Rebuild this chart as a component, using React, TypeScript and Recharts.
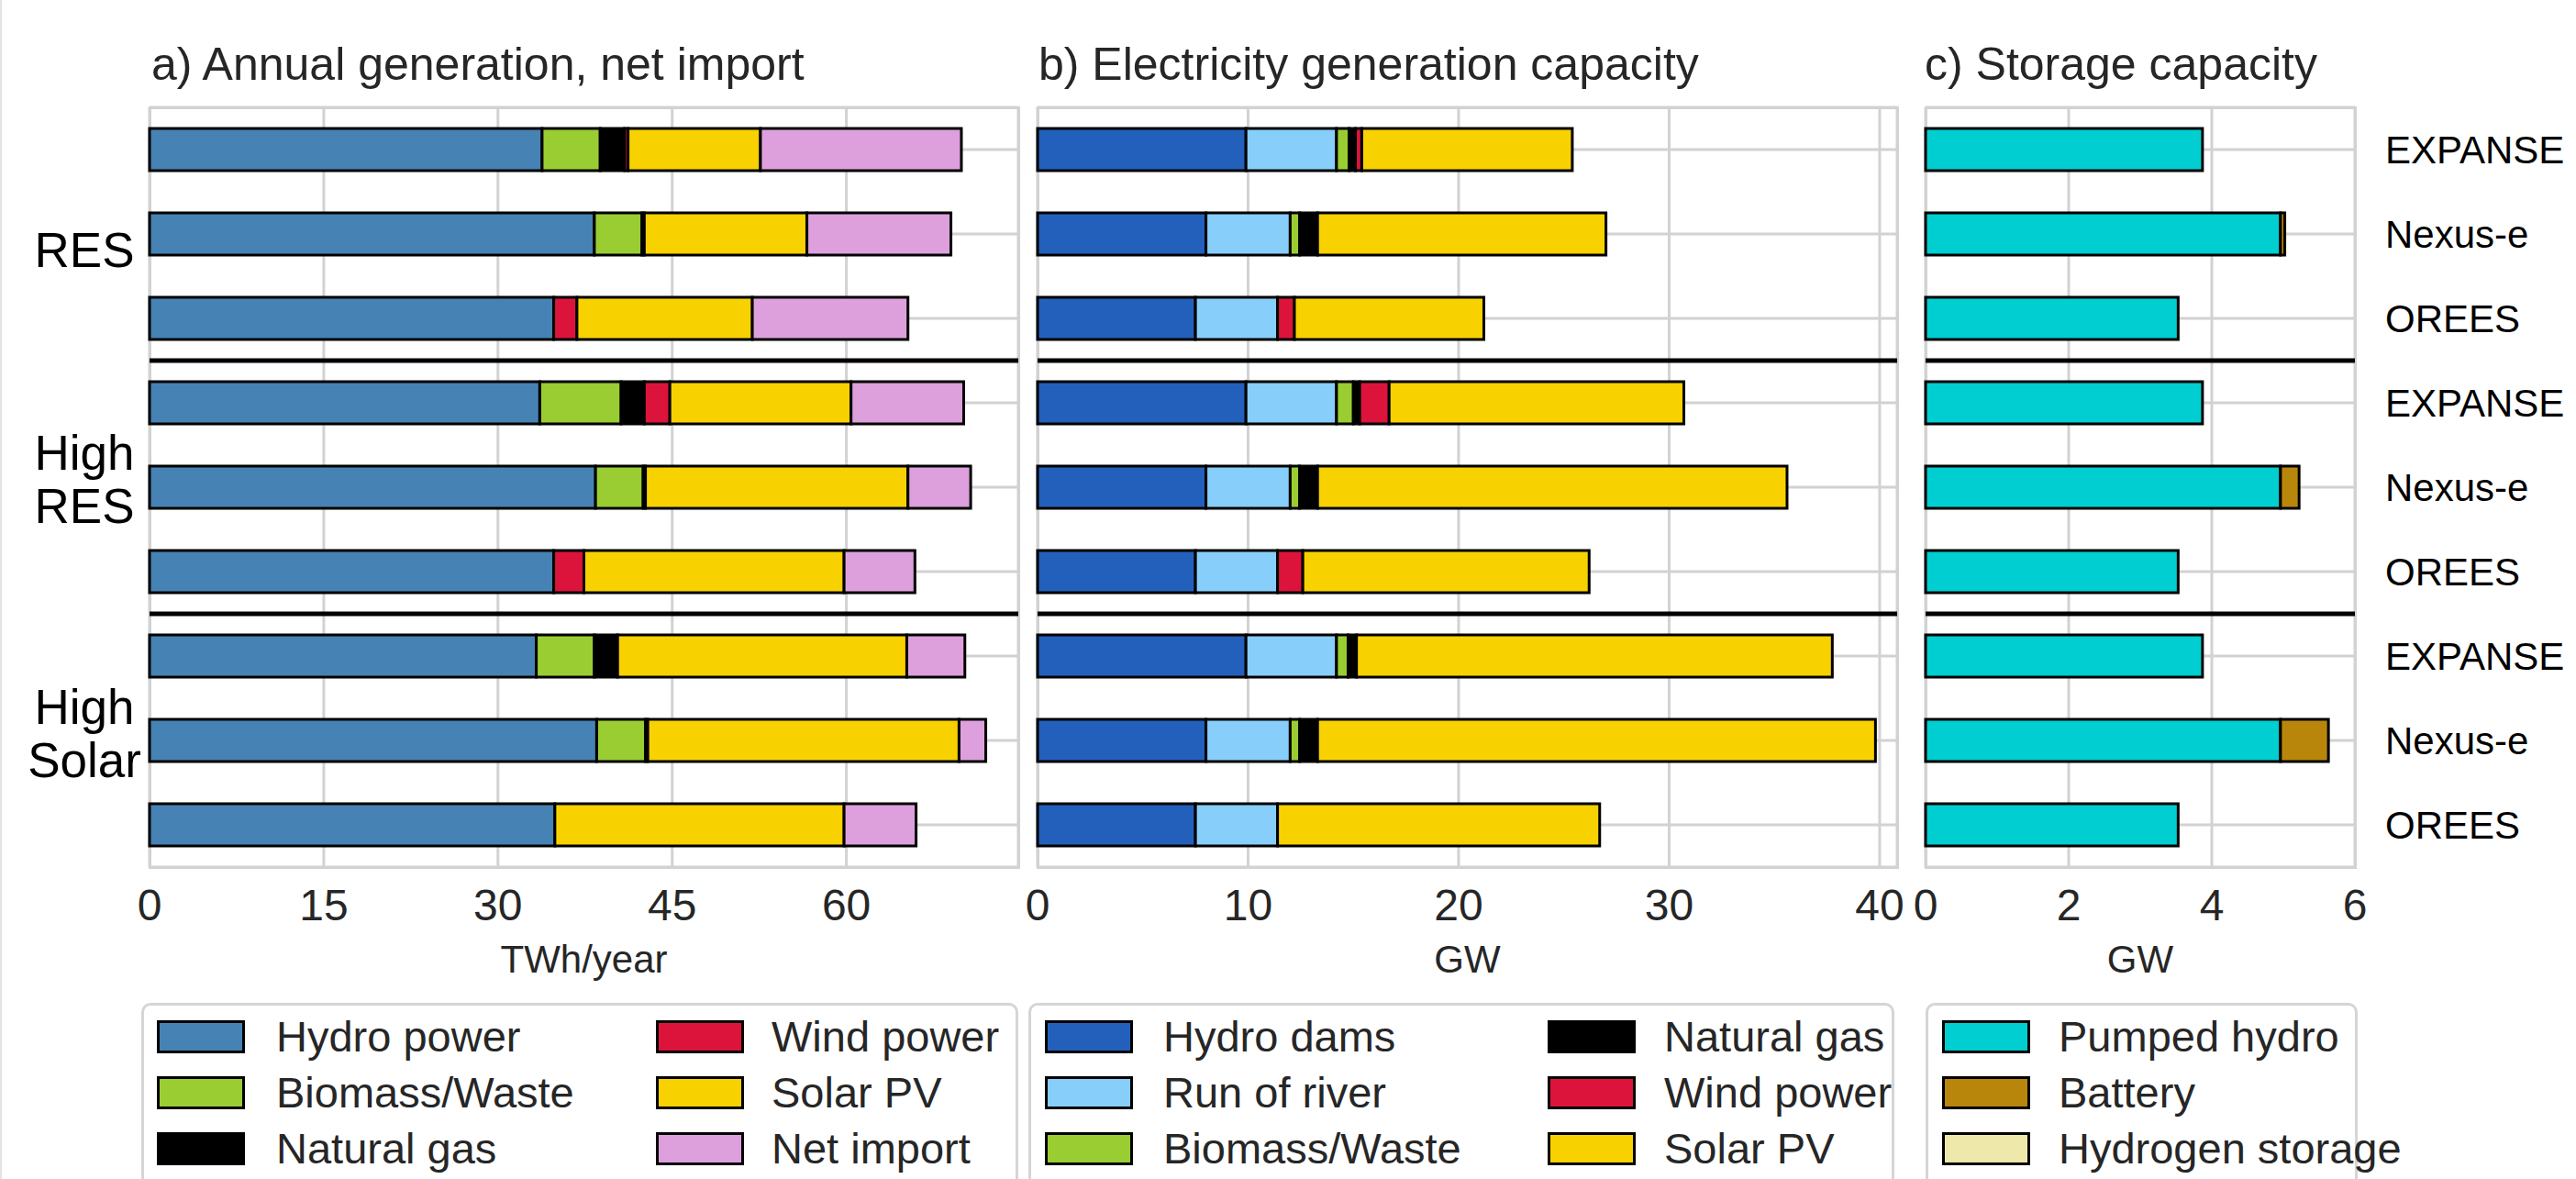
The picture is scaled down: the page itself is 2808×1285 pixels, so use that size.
import React from "react";
import { BarChart, Bar, XAxis, YAxis, CartesianGrid, ReferenceLine } from "recharts";

const scenarios = ["RES", "High RES", "High Solar"];
const models = ["EXPANSE", "Nexus-e", "OREES"];

// a) annual generation / net import, TWh/year (RES x3, High RES x3, High Solar x3)
const genHydro = [33.8, 38.3, 34.8, 33.6, 38.4, 34.8, 33.3, 38.5, 34.9];
const genBiomass = [5.0, 4.1, 0, 7.0, 4.1, 0, 5.0, 4.2, 0];
const genGas = [2.1, 0.2, 0, 2.0, 0.2, 0, 2.0, 0.2, 0];
const genWind = [0.3, 0, 2.0, 2.2, 0, 2.6, 0, 0, 0];
const genSolar = [11.4, 14.0, 15.1, 15.6, 22.6, 22.4, 24.9, 26.8, 24.9];
const netImport = [17.3, 12.4, 13.4, 9.7, 5.4, 6.1, 5.0, 2.3, 6.2];

// b) generation capacity, GW
const capDams = [9.9, 8.0, 7.5, 9.9, 8.0, 7.5, 9.9, 8.0, 7.5];
const capRiver = [4.3, 4.0, 3.9, 4.3, 4.0, 3.9, 4.3, 4.0, 3.9];
const capBiomass = [0.6, 0.45, 0, 0.8, 0.45, 0, 0.55, 0.45, 0];
const capGas = [0.3, 0.85, 0, 0.3, 0.85, 0, 0.4, 0.85, 0];
const capWind = [0.3, 0, 0.8, 1.4, 0, 1.2, 0, 0, 0];
const capSolar = [10.0, 13.7, 9.0, 14.0, 22.3, 13.6, 22.6, 26.5, 15.3];

// c) storage capacity, GW
const stPumped = [3.87, 4.96, 3.53, 3.87, 4.96, 3.53, 3.87, 4.96, 3.53];
const stBattery = [0, 0.06, 0, 0, 0.26, 0, 0, 0.67, 0];
const stHydrogen = [0, 0, 0, 0, 0, 0, 0, 0, 0];

const ticksA = [0, 15, 30, 45, 60];
const ticksB = [0, 10, 20, 30, 40];
const ticksC = [0, 2, 4, 6];

const rowIds = scenarios.flatMap((s) => models.map((m) => `${s}|${m}`));

const seriesA = [
  { key: "hydro", name: "Hydro power", color: "#4682b4", values: genHydro },
  { key: "bio", name: "Biomass/Waste", color: "#9acd32", values: genBiomass },
  { key: "gas", name: "Natural gas", color: "#000000", values: genGas },
  { key: "wind", name: "Wind power", color: "#dc143c", values: genWind },
  { key: "solar", name: "Solar PV", color: "#f8d100", values: genSolar },
  { key: "imp", name: "Net import", color: "#dda0dd", values: netImport },
];
const seriesB = [
  { key: "dams", name: "Hydro dams", color: "#2360bb", values: capDams },
  { key: "ror", name: "Run of river", color: "#87cefa", values: capRiver },
  { key: "bio", name: "Biomass/Waste", color: "#9acd32", values: capBiomass },
  { key: "gas", name: "Natural gas", color: "#000000", values: capGas },
  { key: "wind", name: "Wind power", color: "#dc143c", values: capWind },
  { key: "solar", name: "Solar PV", color: "#f8d100", values: capSolar },
];
const seriesC = [
  { key: "ph", name: "Pumped hydro", color: "#00ced1", values: stPumped },
  { key: "bat", name: "Battery", color: "#b8860b", values: stBattery },
  { key: "h2", name: "Hydrogen storage", color: "#eee8aa", values: stHydrogen },
];

const FONT = '"Liberation Sans", Arial, sans-serif';
const TXT = "#262626";
const GRID = "#d2d2d2";
const CH = 1100;
const TOP = 117;
const PLOT_BOTTOM = 945;
const AXIS_H = 120;

type Series = { key: string; name: string; color: string; values: number[] };

function Panel(props: {
  left: number;
  width: number;
  plotLeft: number;
  plotRight: number;
  series: Series[];
  domain: [number, number];
  ticks: number[];
  unit: string;
  rightLabels?: boolean;
}) {
  const { left, width, plotLeft, plotRight, series, domain, ticks, unit, rightLabels } = props;
  const data = rowIds.map((id, i) => {
    const row: Record<string, any> = { id };
    series.forEach((s) => (row[s.key] = s.values[i]));
    return row;
  });
  const yW = rightLabels ? 200 : 0;
  const margin = {
    top: TOP,
    left: plotLeft - left,
    right: left + width - plotRight - yW,
    bottom: CH - PLOT_BOTTOM - AXIS_H,
  };
  return (
    <>
      <div
        style={{
          position: "absolute",
          left: plotLeft - 1.5,
          top: TOP - 1.5,
          width: plotRight - plotLeft + 3,
          height: PLOT_BOTTOM - TOP + 3,
          border: `3px solid ${GRID}`,
          boxSizing: "border-box",
        }}
      />
      <div style={{ position: "absolute", left, top: 0 }}>
        <BarChart width={width} height={CH} data={data} layout="vertical" margin={margin} barSize={46}>
          <CartesianGrid stroke={GRID} strokeWidth={3} />
          <XAxis
            type="number"
            domain={domain}
            ticks={ticks}
            interval={0}
            height={AXIS_H}
            axisLine={false}
            tickLine={false}
            tickSize={6}
            tickMargin={18}
            tick={{ fontSize: 48, fill: TXT }}
            label={{ value: unit, position: "insideBottom", offset: 5, fontSize: 42, fill: TXT }}
          />
          <YAxis
            type="category"
            dataKey="id"
            hide={!rightLabels}
            orientation="right"
            width={yW}
            interval={0}
            axisLine={false}
            tickLine={false}
            tickSize={6}
            tickMargin={27}
            tick={{ fontSize: 42, fill: "#000" }}
            tickFormatter={(v: string) => v.split("|")[1]}
          />
          {series.map((s) => (
            <Bar
              key={s.key}
              dataKey={s.key}
              name={s.name}
              stackId="s"
              fill={s.color}
              stroke="#000"
              strokeWidth={3}
              isAnimationActive={false}
            />
          ))}
          <ReferenceLine y={rowIds[2]} position="end" stroke="#000" strokeWidth={5} />
          <ReferenceLine y={rowIds[5]} position="end" stroke="#000" strokeWidth={5} />
        </BarChart>
      </div>
    </>
  );
}

function LegendBox(props: { left: number; width: number; series: Series[]; cols: { key: number; text: number }[] }) {
  const { left, width, series, cols } = props;
  const rowsY = [1130, 1191, 1252];
  return (
    <>
      <div
        style={{
          position: "absolute",
          left,
          top: 1093,
          width,
          height: 240,
          border: "3px solid #d5d5d5",
          borderRadius: 10,
          boxSizing: "border-box",
          background: "#fff",
        }}
      />
      {series.map((s, i) => {
        const c = cols[Math.floor(i / 3)];
        const y = rowsY[i % 3];
        return (
          <React.Fragment key={s.key}>
            <div
              style={{
                position: "absolute",
                left: left + c.key,
                top: y - 18,
                width: 96,
                height: 36,
                background: s.color,
                border: "3px solid #000",
                boxSizing: "border-box",
              }}
            />
            <div
              style={{
                position: "absolute",
                left: left + c.text,
                top: y - 30,
                height: 60,
                lineHeight: "60px",
                fontSize: 47,
                color: TXT,
                whiteSpace: "nowrap",
              }}
            >
              {s.name}
            </div>
          </React.Fragment>
        );
      })}
    </>
  );
}

export default function App() {
  return (
    <div
      style={{
        position: "absolute",
        left: 0,
        top: 0,
        width: 2808,
        height: 1285,
        overflow: "hidden",
        background: "#fff",
        fontFamily: FONT,
      }}
    >
      <div style={{ position: "absolute", left: 0, top: 0, width: 2, height: 1285, background: "#e2e2e2" }} />
      <Panel left={0} width={1130} plotLeft={163} plotRight={1110} series={seriesA} domain={[0, 74.8]} ticks={ticksA} unit="TWh/year" />
      <Panel left={1090} width={1000} plotLeft={1131} plotRight={2068} series={seriesB} domain={[0, 40.83]} ticks={ticksB} unit="GW" />
      <Panel left={2070} width={738} plotLeft={2099} plotRight={2567} series={seriesC} domain={[0, 6]} ticks={ticksC} unit="GW" rightLabels />
      <svg width={2808} height={200} style={{ position: "absolute", left: 0, top: 0, overflow: "visible" }}>
        <g fontSize={50} fill={TXT}>
          <text x={165} y={87}>a) Annual generation, net import</text>
          <text x={1132} y={87}>b) Electricity generation capacity</text>
          <text x={2098} y={87}>c) Storage capacity</text>
        </g>
        <g fontSize={53} fill="#000" textAnchor="middle">
          <text x={92} y={291}>RES</text>
          <text x={92} y={512}>High</text>
          <text x={92} y={570}>RES</text>
          <text x={92} y={789}>High</text>
          <text x={92} y={847}>Solar</text>
        </g>
      </svg>
      <LegendBox left={154} width={956} series={seriesA} cols={[{ key: 17, text: 147 }, { key: 561, text: 687 }]} />
      <LegendBox left={1121} width={944} series={seriesB} cols={[{ key: 18, text: 147 }, { key: 566, text: 693 }]} />
      <LegendBox left={2099} width={471} series={seriesC} cols={[{ key: 18, text: 145 }]} />
    </div>
  );
}
